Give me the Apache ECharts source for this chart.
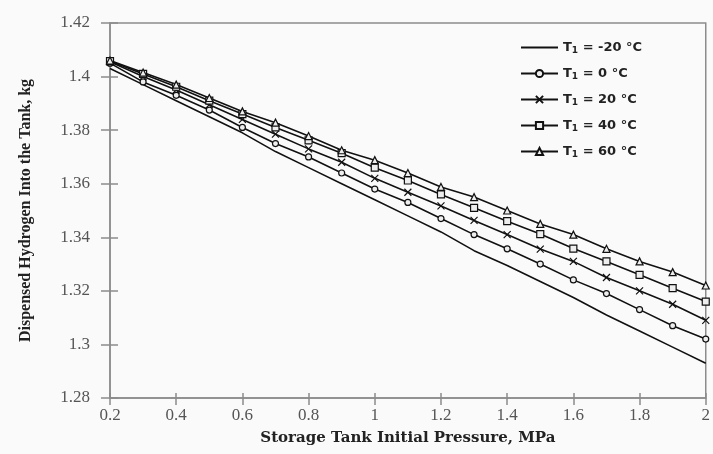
<!DOCTYPE html>
<html>
<head>
<meta charset="utf-8">
<script src="https://cdn.jsdelivr.net/npm/echarts@6/dist/echarts.min.js"></script>
<style>
  html, body { margin: 0; padding: 0; background: #fafafa; }
  #main { width: 713px; height: 454px; }
</style>
</head>
<body>
<div id="main"></div>
<script>
// storage tank initial pressure, MPa
const pressure = [0.2, 0.3, 0.4, 0.5, 0.6, 0.7, 0.8, 0.9, 1.0, 1.1, 1.2, 1.3, 1.4, 1.5, 1.6, 1.7, 1.8, 1.9, 2.0];

// dispensed hydrogen, kg, one array per inlet temperature
const tm20 = [1.403, 1.397, 1.391, 1.385, 1.379, 1.372, 1.366, 1.360, 1.354, 1.348, 1.342, 1.335, 1.3295, 1.3235, 1.3175, 1.311, 1.305, 1.299, 1.293];
const t0   = [1.405, 1.398, 1.393, 1.3875, 1.381, 1.375, 1.370, 1.364, 1.358, 1.353, 1.347, 1.341, 1.3357, 1.330, 1.3241, 1.319, 1.313, 1.307, 1.302];
const t20  = [1.4055, 1.400, 1.395, 1.3895, 1.384, 1.3785, 1.373, 1.368, 1.362, 1.3568, 1.3517, 1.3463, 1.341, 1.3356, 1.331, 1.325, 1.320, 1.315, 1.309];
const t40  = [1.4058, 1.401, 1.3962, 1.391, 1.386, 1.381, 1.3762, 1.3714, 1.366, 1.3612, 1.356, 1.351, 1.346, 1.3412, 1.3358, 1.331, 1.326, 1.321, 1.316];
const t60  = [1.406, 1.4015, 1.397, 1.392, 1.387, 1.3828, 1.3778, 1.3725, 1.3688, 1.364, 1.3588, 1.355, 1.350, 1.345, 1.341, 1.3357, 1.331, 1.327, 1.322];

const seriesNames = ['T{s|1} = -20 °C', 'T{s|1} = 0 °C', 'T{s|1} = 20 °C', 'T{s|1} = 40 °C', 'T{s|1} = 60 °C'];
const seriesData = [tm20, t0, t20, t40, t60];
const symbols = ['circle', 'circle', 'path://M0,0L10,10M10,0L0,10', 'rect', 'triangle'];
const symbolSizes = [0, 6, 7, 7, 7];

const pair = arr => arr.map((v, i) => [pressure[i], v]);

const chart = echarts.init(document.getElementById('main'));

const axisGray = '#8c8c8c';
const labelFont = { fontFamily: 'Liberation Serif', fontSize: 17, color: '#555' };

chart.setOption({
  backgroundColor: '#fafafa',
  animation: false,
  grid: {
    left: 110, right: 6, top: 23, bottom: 56,
    show: true, borderColor: axisGray, borderWidth: 1.5, backgroundColor: 'transparent'
  },
  legend: {
    orient: 'vertical',
    left: 515, top: 36,
    itemWidth: 37, itemHeight: 9, itemGap: 12,
    data: seriesNames,
    textStyle: {
      fontFamily: 'DejaVu Sans', fontSize: 13, fontWeight: 'bold', color: '#222',
      rich: { s: { fontSize: 9, fontWeight: 'bold', verticalAlign: 'bottom', padding: [6, 0, 0, 0] } }
    }
  },
  xAxis: [{
    type: 'value', min: 0.2, max: 2, interval: 0.2,
    name: 'Storage Tank Initial Pressure, MPa',
    nameLocation: 'middle', nameGap: 33,
    nameTextStyle: { fontFamily: 'DejaVu Serif', fontWeight: 'bold', fontSize: 15, color: '#222' },
    axisLine: { lineStyle: { color: axisGray, width: 1.5 } },
    axisTick: { length: 7, lineStyle: { color: axisGray, width: 1.5 } },
    axisLabel: Object.assign({ margin: 9 }, labelFont),
    splitLine: { show: false }
  }, {
    type: 'value', min: 0.2, max: 2, interval: 0.2, position: 'bottom',
    axisLine: { show: false },
    axisTick: { inside: true, length: 5, lineStyle: { color: axisGray, width: 1.5 } },
    axisLabel: { show: false },
    splitLine: { show: false }
  }],
  yAxis: [{
    type: 'value', min: 1.28, max: 1.42, interval: 0.02,
    name: 'Dispensed Hydrogen Into the Tank, kg',
    nameLocation: 'middle', nameGap: 76,
    nameTextStyle: { fontFamily: 'Liberation Serif', fontWeight: 'bold', fontSize: 16, color: '#222' },
    axisLine: { lineStyle: { color: axisGray, width: 1.5 } },
    axisTick: { length: 9, lineStyle: { color: axisGray, width: 1.5 } },
    axisLabel: Object.assign({ margin: 20 }, labelFont),
    splitLine: { show: false }
  }, {
    type: 'value', min: 1.28, max: 1.42, interval: 0.02, position: 'left',
    axisLine: { show: false },
    axisTick: { inside: true, length: 8, lineStyle: { color: axisGray, width: 1.5 } },
    axisLabel: { show: false },
    splitLine: { show: false }
  }],
  series: seriesData.map((d, i) => ({
    name: seriesNames[i],
    type: 'line',
    data: pair(d),
    symbol: symbols[i],
    symbolSize: symbolSizes[i],
    showSymbol: i > 0,
    lineStyle: { color: '#111', width: 1.6 },
    itemStyle: i === 0
      ? { color: '#111', opacity: 0 }
      : { color: '#eee', borderColor: '#111', borderWidth: 1.2 }
  }))
});
</script>
</body>
</html>
